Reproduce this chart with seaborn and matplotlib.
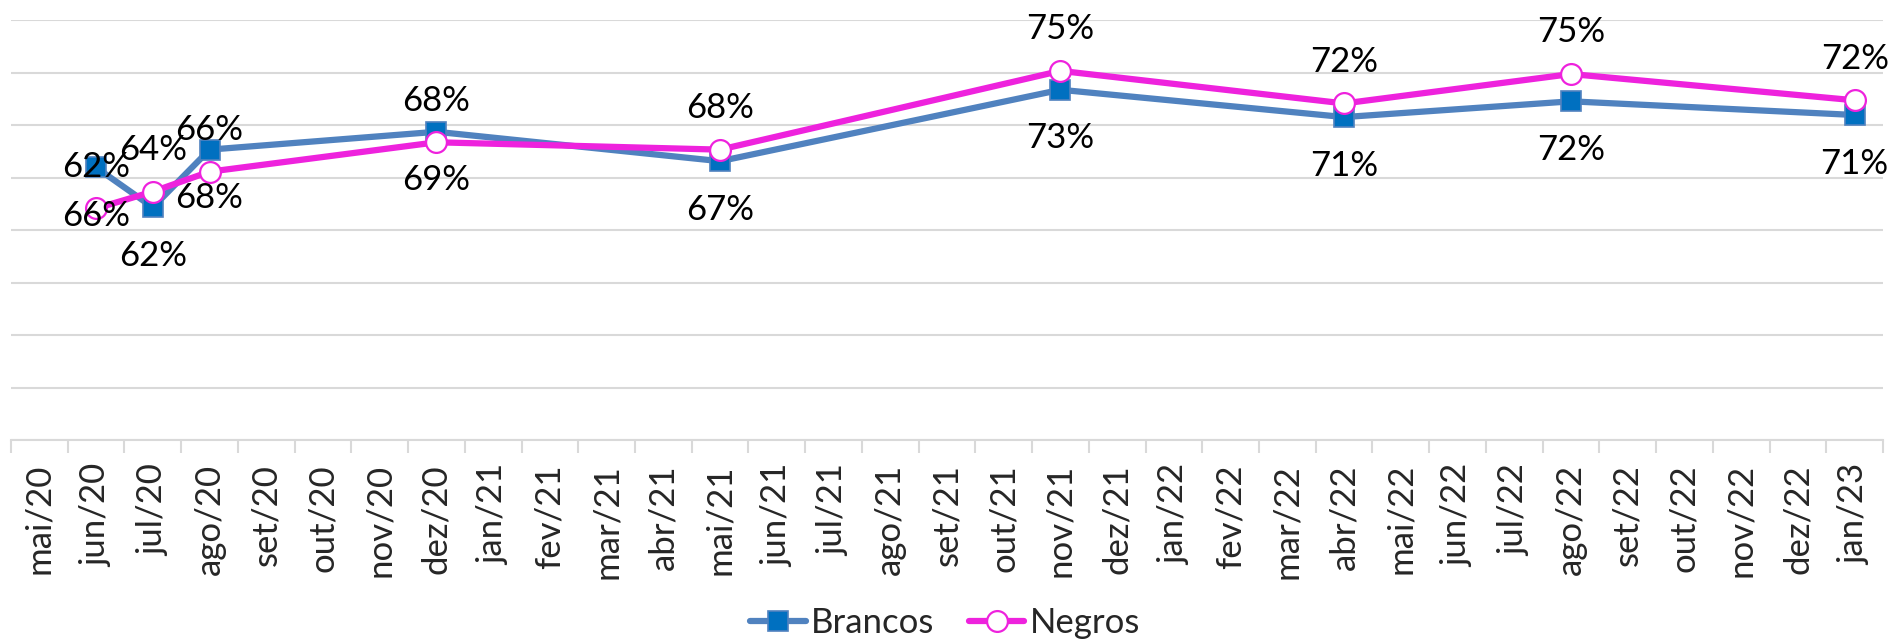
import pandas as pd
import seaborn as sns
import matplotlib.pyplot as plt
from matplotlib.ticker import MultipleLocator, NullFormatter

# Months on the x axis (one category per month)
months = ['mai/20', 'jun/20', 'jul/20', 'ago/20', 'set/20', 'out/20', 'nov/20', 'dez/20',
          'jan/21', 'fev/21', 'mar/21', 'abr/21', 'mai/21', 'jun/21', 'jul/21', 'ago/21',
          'set/21', 'out/21', 'nov/21', 'dez/21', 'jan/22', 'fev/22', 'mar/22', 'abr/22',
          'mai/22', 'jun/22', 'jul/22', 'ago/22', 'set/22', 'out/22', 'nov/22', 'dez/22',
          'jan/23']

# Survey rounds and values (%)
survey_months = ['jun/20', 'jul/20', 'ago/20', 'dez/20', 'mai/21', 'nov/21', 'abr/22', 'ago/22', 'jan/23']
brancos = [66.0, 62.2, 67.7, 69.4, 66.6, 73.4, 70.8, 72.3, 71.0]
negros = [62.1, 63.7, 65.6, 68.4, 67.7, 75.2, 72.1, 74.9, 72.4]

df = pd.DataFrame({
    'mes': survey_months,
    'Brancos': brancos,
    'Negros': negros,
})
df['x'] = [months.index(m) for m in df['mes']]

sns.set_style('white')
plt.rcParams['font.family'] = ['Lato', 'DejaVu Sans']

grid_color = '#d9d9d9'
blue_line = '#5082bf'
blue_fill = '#0070c0'
magenta = '#ee22dd'
font_size = 25

fig = plt.figure(figsize=(18.9, 6.42), dpi=100)
ax = fig.add_axes([0.00582, 0.3139, 0.99048, 0.6542])

sns.lineplot(data=df, x='x', y='Brancos', ax=ax, color=blue_line, linewidth=4.5,
             marker='s', markersize=15, markerfacecolor=blue_fill,
             markeredgecolor=blue_line, markeredgewidth=1.2, label='Brancos',
             clip_on=False, zorder=3)
sns.lineplot(data=df, x='x', y='Negros', ax=ax, color=magenta, linewidth=4.5,
             marker='o', markersize=15, markerfacecolor='white',
             markeredgecolor=magenta, markeredgewidth=1.6, label='Negros',
             clip_on=False, zorder=4)

# data labels: Negros above, Brancos below
for x, v in zip(df['x'], df['Negros']):
    ax.annotate(f'{v:.0f}%', (x, v), xytext=(0, 30), textcoords='offset points',
                ha='center', va='center', fontsize=font_size, color='black', zorder=5)
for x, v in zip(df['x'], df['Brancos']):
    ax.annotate(f'{v:.0f}%', (x, v), xytext=(0, -35), textcoords='offset points',
                ha='center', va='center', fontsize=font_size, color='black', zorder=5)

ax.set_xlim(-0.5, len(months) - 0.5)
ax.set_ylim(40, 80)
ax.set_xticks(range(len(months)))
ax.set_xticklabels(months, rotation=90, fontsize=font_size)
ax.xaxis.set_minor_locator(MultipleLocator(1, offset=0.5))
ax.xaxis.set_minor_formatter(NullFormatter())
ax.tick_params(axis='x', which='major', length=0, pad=17)
ax.tick_params(axis='x', which='minor', length=9, width=1.5, color=grid_color, bottom=True)
ax.set_yticks(range(40, 81, 5))
ax.set_yticklabels([])
ax.tick_params(axis='y', length=0)
ax.yaxis.grid(True, color=grid_color, linewidth=1.5)
ax.set_axisbelow(True)
ax.set_xlabel('')
ax.set_ylabel('')
for side in ['top', 'right', 'left']:
    ax.spines[side].set_visible(False)
ax.spines['bottom'].set_color(grid_color)
ax.spines['bottom'].set_linewidth(1.5)

ax.legend_.remove()
handles, labels = ax.get_legend_handles_labels()
fig.legend(handles, labels, loc='center', bbox_to_anchor=(0.5, 1 - 623 / 642), ncol=2,
           frameon=False, fontsize=font_size, handlelength=1.6, handletextpad=0.15,
           columnspacing=1.0)

fig.savefig('out.png', dpi=100)
